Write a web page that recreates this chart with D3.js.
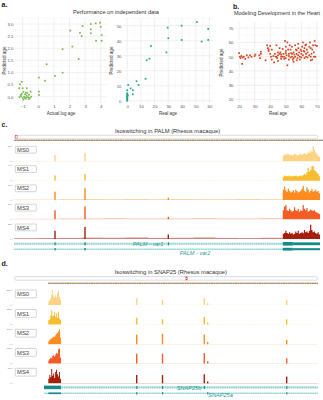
<!DOCTYPE html>
<html><head><meta charset="utf-8">
<script src="https://cdn.jsdelivr.net/npm/d3@7"></script>
<style>body{margin:0;background:#fff}svg{display:block;font-family:"Liberation Sans",Arial,sans-serif}</style>
</head><body><svg id="fig" width="323" height="400"></svg>
<script>
// ---------------- DATA ----------------
// Panel a (left): actual log age vs predicted
const a1Points = [[-1.06,0.62],[-1.17,0.51],[-1.0,0.35],[-1.22,0.35],[-0.74,0.35],[-0.49,0.21],[-0.79,0.17],[-1.13,0.07],
 [-1.05,0.12],[-0.85,0.1],[-0.75,0.05],[-0.6,0.08],[-0.9,0.0],[-1.0,-0.05],[-0.8,-0.08],[-0.65,-0.02],[-0.55,-0.05],
 [-1.2,-0.02],[-0.7,0.15],[-0.95,-0.12],[-0.85,-0.05],[-1.1,0.02],[-0.45,0.0],[-0.6,-0.1],[-0.75,-0.02],[-0.95,0.2],
 [0.04,0.79],[0.04,0.21],[0.05,0.07],[0.43,0.66],[0.54,1.34],[1.07,0.86],[1.56,1.96],[1.56,0.99],[2.05,2.73],[2.18,2.07],
 [2.59,1.56],[2.67,2.64],[2.78,2.5],[2.84,2.92],[3.36,3.0],[3.36,2.78],[3.36,2.62],[3.68,3.03],[3.7,2.31],[3.95,3.06],
 [4.0,2.89],[4.06,2.55],[4.06,2.31]];
const a1XTicks = [-1,0,1,2,3,4];
const a1YTicks = [0,0.5,1,1.5,2,2.5,3];
// Panel a (right): real age vs predicted
const a2Points = [[0,0],[0,0.6],[0,1.2],[0,1.8],[0,2.4],[0,3],[0,3.6],[0,4.2],[0,5],[0,7],[0.5,3.5],[0.7,10.5],[2.5,8.2],
 [4.1,7],[4.1,4.3],[6.8,13],[8.3,10.5],[13.4,14.6],[14.2,27],[16.2,28],[17.3,36.5],[28.6,32.2],[29.5,48.7],[30,41.6],
 [39.7,50],[39.7,40.5],[50.9,52.5],[54.3,39.4],[59.1,47.8],[59.1,40.5]];
const a2XTicks = [0,10,20,30,40,50,60];
const a2YTicks = [0,10,20,30,40,50];
// Panel b: heart development
const bPoints = [[20,52.5],[20.5,50],[21,49],[21.5,50.5],[22,45],[22.5,49.5],[23,50],[24,48.5],[25,51],[26,49.5],[27,51],
 [28,50],[30,50.5],[30.5,51.5],[33,51],[33.5,49],[34,53.5],[34,52],[37,47.5],[38,58],[38.5,56],[39,55],[39,54],[40,57.5],
 [40,52],[40.5,50],[41,48],[41,55],[42,50.5],[42.5,46],[43,52],[43.5,50],[44,50],[44.5,49],[45,51],[45,47],[46,56],
 [46.5,53],[47,50],[47,48.5],[48,55.5],[48.5,52],[49,50],[49,48.5],[49.5,61],[50,57],[50,54],[50,49],[50.5,51],[51,44],
 [51,60],[51.5,55],[52,52],[52,48],[52.5,58],[53,49.5],[53,55],[53.5,52.5],[54,57],[54,50],[54.5,48],[55,53],[55,49],
 [55.5,51.5],[56,58],[56,50],[56.5,55],[57,47.5],[57,52],[57.5,49],[58,56],[58,51],[58.5,53],[59,48],[59,50],[59.5,55],
 [60,52],[60,49.5],[60.5,57],[61,60],[61,51],[61.5,54],[62,49],[62,56],[62.5,58],[63,52],[63,50],[63.5,55],[64,49.5],
 [64,53],[65,57],[65,51],[65.5,60],[66,50],[66,56],[66.5,52],[67,48],[67,55],[67.5,58],[68,50],[68,53],[68.5,61],[69,58],
 [69,50],[70,57.5],[44,58],[46,52],[48,50],[52,50.5],[55,46.5],[57,54.5],[60,54],[63,58.5],[66,47.5],[62,53.5],[58,59],
 [54,52],[50,52.5],[47,51.5],[45,53]];
const bXTicks = [20,30,40,50,60,70];
const bYTicks = [20,30,40,50,60,70];

// Coverage tracks
const samples = ["MS0","MS1","MS2","MS3","MS4"];
const sampleColors = ["#fdd283","#f9bd30","#fd8b20","#f45b25","#a61f0d"];

// PALM locus (bp, relative)
const palmDomain = [0, 30000];
const palmSpikePos = [4020, 6960, 15130];
const palmSpikeH = [[0.42,0.55,0.0],[0.35,0.45,0.0],[0.55,0.8,0.15],[0.6,0.85,0.15],[0.55,0.8,0.3]];
const palmRegion = [26350, 30000];
const palmProfiles = [
 [0.35,0.45,0.42,0.5,0.48,0.4,0.45,0.38,0.42,0.5,0.45,0.4,0.38,0.45,0.5,0.42,0.48,0.55,0.45,0.5,0.6,0.55,0.7,0.62,1.0,0.75,0.6,0.5,0.35,0.3],
 [0.25,0.35,0.3,0.32,0.3,0.35,0.28,0.3,0.33,0.3,0.35,0.3,0.28,0.32,0.35,0.3,0.38,0.45,0.4,0.55,0.85,0.6,0.7,0.95,1.0,0.7,0.65,0.55,0.45,0.3],
 [0.7,0.9,0.65,0.55,0.75,0.6,0.5,0.55,0.65,0.5,0.7,0.6,0.5,0.55,0.6,0.75,0.95,0.6,0.55,0.85,0.7,0.5,0.6,0.75,0.55,0.6,0.7,0.55,0.6,0.45],
 [0.6,0.85,0.95,0.6,0.55,0.7,0.6,0.5,0.55,0.8,0.6,0.55,0.7,0.5,0.6,0.55,0.95,0.7,0.6,0.75,0.5,0.55,0.65,0.6,0.55,0.6,0.5,0.45,0.4,0.35],
 [0.35,0.4,0.55,0.4,0.35,0.45,0.35,0.4,0.3,0.35,0.5,0.4,0.55,0.35,0.4,0.45,0.38,0.6,0.45,0.5,0.4,0.55,0.95,0.6,0.45,0.5,0.4,0.35,0.45,0.3]];
const palmNoiseSpan = [0, 26350];
const palmNoise = [
 [0.02,0.02,0.02,0.02,0.02,0.02,0.02,0.02,0.02,0.02,0.02,0.02],
 [0.01,0.01,0.01,0.01,0.01,0.01,0.01,0.01,0.01,0.01,0.01,0.01],
 [0.02,0.02,0.04,0.05,0.04,0.05,0.04,0.05,0.04,0.04,0.05,0.04],
 [0.02,0.02,0.04,0.04,0.05,0.04,0.04,0.04,0.05,0.04,0.04,0.05],
 [0.05,0.06,0.07,0.09,0.08,0.1,0.07,0.08,0.1,0.07,0.06,0.08]];
const palmGenes = [
 {name:"PALM - var1", exons:[[3970,4090,"s"],[6900,7040,"s"],[15080,15200,"s"],[26350,27330,"cds"],[27330,30000,"utr"]]},
 {name:"PALM - var2", exons:[[3970,4090,"s"],[6900,7040,"s"],[26350,27330,"cds"],[27330,30000,"utr"]]}];
const palmGeneSpan = [0, 30000];

// SNAP25 locus (bp, relative)
const snapDomain = [0, 90000];
const snapSpikePos = [36090, 43680, 55970, 56970, 80200];
const snapSpikeH = [[0.45,0.35,0.45,0.12,0.35],[0.45,0.35,0.5,0.12,0.35],[0.65,0.7,0.65,0.15,0.3],[0.65,0.65,0.7,0.15,0.35],[0.55,0.55,0.6,0.12,0.45]];
const snapRegion = [10090, 13820];
const snapProfiles = [
 [0.25,0.3,0.45,0.7,1.0,0.55,0.5,0.65,0.5,0.8,0.95,0.55,0.35],
 [0.3,0.35,0.6,0.95,0.55,0.6,0.85,0.5,0.75,0.45,0.85,0.4,0.3],
 [0.2,0.3,0.35,0.4,0.45,0.5,0.5,0.6,0.7,0.75,0.85,1.0,0.45],
 [0.2,0.3,0.4,0.35,0.5,0.55,0.45,0.6,0.7,0.65,0.95,1.0,0.4],
 [0.3,0.55,0.4,0.95,0.5,0.65,0.35,0.75,0.9,0.6,0.45,0.75,0.3]];
const snapNoiseSpan = [13820, 89400];
const snapNoise = [
 [0.01,0.01,0.01,0.01,0.01,0.01,0.01,0.01],
 [0.01,0.01,0.01,0.01,0.01,0.01,0.01,0.01],
 [0.015,0.015,0.015,0.015,0.015,0.015,0.015,0.015],
 [0.015,0.015,0.015,0.015,0.015,0.015,0.015,0.015],
 [0.02,0.02,0.02,0.02,0.02,0.02,0.02,0.02]];
const snapGenes = [
 {name:"SNAP25b", exons:[[8820,13820,"cds"],[35950,36230,"s"],[43540,43820,"s"],[55830,56110,"s"],[80060,80340,"s"]]},
 {name:"SNAP25a", exons:[[10090,13820,"thin"],[35950,36230,"s"],[43540,43820,"s"],[56830,57110,"s"],[80060,80340,"s"]]}];
const snapGeneSpan = [8820, 89400];

// ---------------- DRAWING ----------------
const svg = d3.select("#fig");
const FONT = "'Liberation Sans', Arial, sans-serif";
const defs = svg.append("defs");
const pat = defs.append("pattern").attr("id","seq").attr("width",2.4).attr("height",3).attr("patternUnits","userSpaceOnUse");
["#d9453a","#5aa64a","#3a63b8","#e8a23a"].forEach((c,i)=>pat.append("rect").attr("x",i*0.6).attr("y",0).attr("width",0.6).attr("height",3).attr("fill",c));

function txt(x,y,s,size,opt={}){
  return svg.append("text").attr("x",x).attr("y",y).text(s).attr("font-size",size)
    .attr("font-family",FONT).attr("fill",opt.fill||"#222").attr("text-anchor",opt.anchor||"start")
    .attr("font-weight",opt.weight||"normal").attr("font-style",opt.style||"normal");
}

function scatter(c){
  const x = d3.scaleLinear().domain(c.xd).range([c.l,c.r]);
  const y = d3.scaleLinear().domain(c.yd).range([c.b,c.t]);
  const g = svg.append("g");
  g.selectAll(".xm").data(c.xminor).join("line").attr("x1",d=>x(d)).attr("x2",d=>x(d)).attr("y1",c.t).attr("y2",c.b).attr("stroke","#f3f3f3").attr("stroke-width",0.4);
  g.selectAll(".ym").data(c.yminor).join("line").attr("y1",d=>y(d)).attr("y2",d=>y(d)).attr("x1",c.l).attr("x2",c.r).attr("stroke","#f3f3f3").attr("stroke-width",0.4);
  g.selectAll(".xg").data(c.xticks).join("line").attr("x1",d=>x(d)).attr("x2",d=>x(d)).attr("y1",c.t).attr("y2",c.b).attr("stroke","#e6e6e6").attr("stroke-width",0.6);
  g.selectAll(".yg").data(c.yticks).join("line").attr("y1",d=>y(d)).attr("y2",d=>y(d)).attr("x1",c.l).attr("x2",c.r).attr("stroke","#e6e6e6").attr("stroke-width",0.6);
  const ax = g.append("g").attr("transform",`translate(0,${c.b})`)
    .call(d3.axisBottom(x).tickValues(c.xticks).tickSize(0).tickPadding(2.4).tickFormat(c.xf||d3.format("d")));
  const ay = g.append("g").attr("transform",`translate(${c.l},0)`)
    .call(d3.axisLeft(y).tickValues(c.yticks).tickSize(0).tickPadding(1.6).tickFormat(c.yf||d3.format("d")));
  [ax,ay].forEach(a=>{a.select(".domain").remove(); a.selectAll("text").attr("font-size",4.3).attr("fill","#555").attr("font-family",FONT);});
  g.selectAll(".pt").data(c.data).join("rect")
    .attr("x",d=>x(d[0])-0.85).attr("y",d=>y(d[1])-0.85).attr("width",1.7).attr("height",1.7).attr("fill",c.color);
  txt((c.l+c.r)/2, c.b+12.3, c.xlab, 4.5, {anchor:"middle",fill:"#333"});
  svg.append("text").attr("transform",`translate(${c.yl},${(c.t+c.b)/2}) rotate(-90)`).attr("text-anchor","middle")
    .attr("font-size",4.5).attr("font-family",FONT).attr("fill","#333").text(c.ylab);
}

function seqRange(a,b,s){ const r=[]; for(let v=a; v<=b+1e-9; v+=s) r.push(+v.toFixed(4)); return r; }

// panel labels and titles
txt(1.5,6.5,"a.",7,{weight:"bold"});
txt(233,8.5,"b.",7,{weight:"bold"});
txt(1.5,126.5,"c.",7,{weight:"bold"});
txt(1.5,266,"d.",7,{weight:"bold"});
txt(116,13.5,"Performance on independent data",5.7,{anchor:"middle",fill:"#333"});
txt(277,14.5,"Modeling Development in the Heart",5.5,{anchor:"middle",fill:"#333"});

scatter({l:15,r:107,t:18,b:103,xd:[-1.49,4.4],yd:[-0.26,3.25],xticks:a1XTicks,yticks:a1YTicks,
  xminor:seqRange(-0.5,3.5,1),yminor:seqRange(-0.25,3.25,0.5),data:a1Points,color:"#79b84a",
  xlab:"Actual log age",ylab:"Predicted age",yl:5.5,yf:d3.format(".1f")});
scatter({l:123,r:213,t:18,b:103,xd:[-3.1,62.6],yd:[-1.5,55.1],xticks:a2XTicks,yticks:a2YTicks,
  xminor:seqRange(5,55,10),yminor:seqRange(5,55,10),data:a2Points,color:"#1fa58c",
  xlab:"Real age",ylab:"Predicted age",yl:112.5});
scatter({l:235,r:321,t:22,b:103,xd:[17.4,72.6],yd:[17.6,74.3],xticks:bXTicks,yticks:bYTicks,
  xminor:seqRange(25,65,10),yminor:seqRange(25,65,10),data:bPoints,color:"#d5421c",
  xlab:"Real age",ylab:"Predicted age",yl:223});

function locus(c){
  const xs = d3.scaleLinear().domain(c.domain).range([14,320]);
  txt(c.titleX,c.titleY,c.title,5.8,{anchor:"middle",fill:"#333"});
  // ideogram
  svg.append("rect").attr("x",14.5).attr("y",c.ideoY).attr("width",303).attr("height",3.6).attr("rx",1.6)
    .attr("fill","#fff").attr("stroke","#b8b8b8").attr("stroke-width",0.5);
  svg.append("rect").attr("x",c.markX).attr("y",c.ideoY+0.3).attr("width",1.8).attr("height",3).attr("fill","none")
    .attr("stroke","#e23b3b").attr("stroke-width",0.5);
  svg.append("rect").attr("x",c.seqX[0]).attr("y",c.seqY).attr("width",c.seqX[1]-c.seqX[0]).attr("height",1.4).attr("fill","url(#seq)");
  samples.forEach((s,i)=>{
    const base = c.baselines[i];
    const ys = d3.scaleLinear().domain([0,1]).range([base, base-15]);
    const col = sampleColors[i];
    const g = svg.append("g");
    // low background coverage
    const nb = c.noise[i].length, nw = (c.noiseSpan[1]-c.noiseSpan[0])/nb;
    g.selectAll(".n").data(c.noise[i]).join("rect")
      .attr("x",(d,k)=>xs(c.noiseSpan[0]+k*nw)).attr("width",(d,k)=>xs(c.noiseSpan[0]+(k+1)*nw)-xs(c.noiseSpan[0]+k*nw))
      .attr("y",d=>ys(d)).attr("height",d=>base-ys(d)).attr("fill",col).attr("opacity",0.55);
    // spikes
    g.selectAll(".s").data(c.spikePos).join("rect")
      .attr("x",d=>xs(d)-0.7).attr("width",1.4).attr("y",(d,k)=>ys(c.spikeH[i][k]))
      .attr("height",(d,k)=>base-ys(c.spikeH[i][k])).attr("fill",col);
    // main region profile
    const prof = c.profiles[i], bw = (c.region[1]-c.region[0])/prof.length;
    const pts = prof.map((v,k)=>({p:c.region[0]+k*bw, v}));
    pts.push({p:c.region[1], v:prof[prof.length-1]});
    g.append("path").datum(pts).attr("fill",col)
      .attr("d",d3.area().x(d=>xs(d.p)).y0(base).y1(d=>ys(d.v)).curve(d3.curveStepAfter));
    // track axis
    g.append("line").attr("x1",12).attr("x2",13).attr("y1",base-15).attr("y2",base-15).attr("stroke","#999").attr("stroke-width",0.3);
    g.append("line").attr("x1",12).attr("x2",13).attr("y1",base).attr("y2",base).attr("stroke","#999").attr("stroke-width",0.3);
    g.append("text").attr("x",11.5).attr("y",base-14.3).attr("text-anchor","end").attr("font-size",2.2).attr("fill","#777").attr("font-family",FONT).text(c.axisMax[i]);
    g.append("text").attr("x",11.5).attr("y",base+0.6).attr("text-anchor","end").attr("font-size",2.2).attr("fill","#777").attr("font-family",FONT).text("0");
    // label box
    g.append("rect").attr("x",15.3).attr("y",base-15).attr("width",21).attr("height",c.boxH).attr("rx",0.6)
      .attr("fill","#fff").attr("stroke","#a8a8a8").attr("stroke-width",0.5);
    g.append("text").attr("x",17).attr("y",base-15+c.boxH/2+2.1).attr("font-size",5.9).attr("fill","#444").attr("font-family",FONT).text(s);
  });
  // gene models
  c.genes.forEach((gn,j)=>{
    const y0 = c.geneY[j];
    const g = svg.append("g");
    g.append("line").attr("x1",xs(c.geneSpan[0])).attr("x2",xs(c.geneSpan[1])).attr("y1",y0).attr("y2",y0)
      .attr("stroke","#b5e2e0").attr("stroke-width",j===0?2.6:1.4).attr("stroke-dasharray","1.6,0.6");
    g.append("line").attr("x1",xs(c.geneSpan[0])).attr("x2",xs(c.geneSpan[1])).attr("y1",y0).attr("y2",y0)
      .attr("stroke","#4fb3b0").attr("stroke-width",0.35);
    const hh = {cds:j===0?3.6:2.8, utr:j===0?2.8:2.0, s:j===0?3:2.4, thin:1.6};
    g.selectAll("rect").data(gn.exons).join("rect")
      .attr("x",d=>xs(d[0])).attr("width",d=>Math.max(1.1,xs(d[1])-xs(d[0])))
      .attr("y",d=>y0-hh[d[2]]/2).attr("height",d=>hh[d[2]]).attr("fill","#168a89");
    txt(c.geneLabel[j][0], c.geneLabel[j][1], gn.name, 5.6, {anchor:"middle",fill:"#1a9a98",style:"italic"});
  });
}

locus({domain:palmDomain,title:"Isoswitching in PALM (Rhesus macaque)",titleX:167.5,titleY:133,ideoY:135.3,markX:15.3,
  seqX:[14,323],seqY:139.6,baselines:[161.3,180.7,199.9,219.2,239],noise:palmNoise,noiseSpan:palmNoiseSpan,
  spikePos:palmSpikePos,spikeH:palmSpikeH,region:palmRegion,profiles:palmProfiles,boxH:6.8,
  axisMax:["560","640","780","860","320"],genes:palmGenes,geneSpan:palmGeneSpan,geneY:[243.8,249.2],
  geneLabel:[[148,246.2],[195,255]]});

locus({domain:snapDomain,title:"Isoswitching in SNAP25 (Rhesus macaque)",titleX:170.8,titleY:273.5,ideoY:276.6,markX:185.8,
  seqX:[48,318],seqY:282.6,baselines:[305,324.5,344.3,363.5,383.3],noise:snapNoise,noiseSpan:snapNoiseSpan,
  spikePos:snapSpikePos,spikeH:snapSpikeH,region:snapRegion,profiles:snapProfiles,boxH:7.8,
  axisMax:["2340","2150","1680","1720","880"],genes:snapGenes,geneSpan:snapGeneSpan,geneY:[387.4,393.3],
  geneLabel:[[189,389.6],[220.5,397.4]]});
svg.append("rect").attr("x",67.5).attr("y",282.4).attr("width",1.2).attr("height",1.8).attr("fill","#66cc55");
</script></body></html>
